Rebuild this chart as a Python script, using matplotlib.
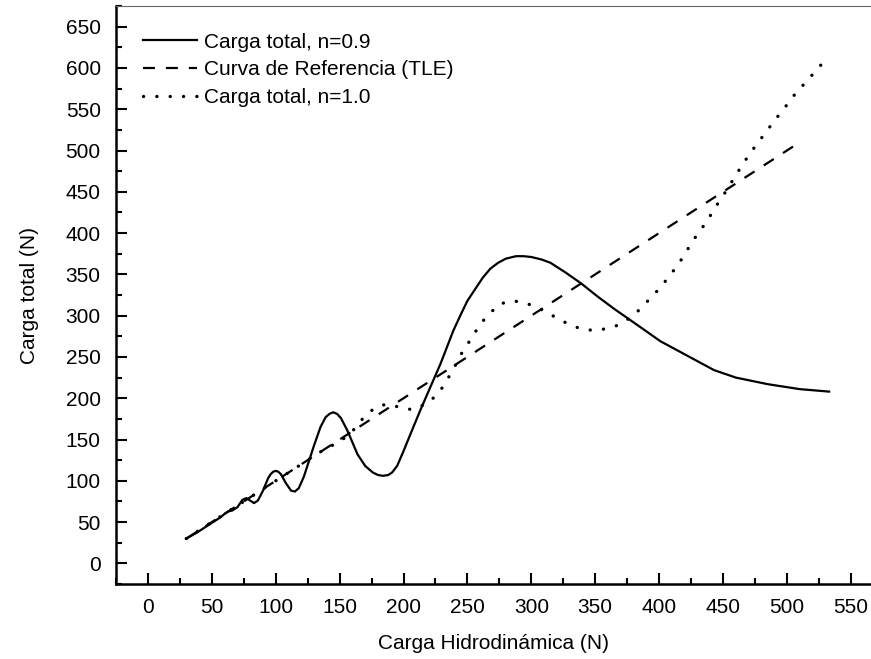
import matplotlib
matplotlib.use("Agg")
import matplotlib.pyplot as plt
from matplotlib.ticker import MultipleLocator

plt.rcParams['font.family'] = ['Liberation Sans', 'DejaVu Sans']
plt.rcParams['lines.scale_dashes'] = False

# --- data ---
ref_x = [30, 510]
ref_y = [30, 510]

n09_x = [30, 38, 45, 52, 57, 60, 63, 66, 70, 74, 77, 80, 83, 86, 90, 94, 96, 98, 100, 102,
         104, 108, 112, 115, 118, 122, 126, 130, 135, 139, 142, 145, 148, 151, 156, 164, 170,
         176, 180, 184, 188, 191, 195, 200, 205, 213, 220, 229, 239, 245, 250, 256, 262, 268,
         274, 280, 288, 294, 300, 308, 315, 327, 339, 352, 365, 378, 390, 401, 413, 425, 443,
         460, 485, 510, 533]
n09_y = [30, 37, 44, 51, 56, 60, 63, 64, 68, 77, 79, 76, 73, 76, 88, 103, 108, 111, 112, 111,
         108, 97, 88, 87, 91, 105, 124, 143, 165, 177, 181, 183, 181, 176, 161, 132, 118,
         110, 107, 106, 107, 110, 118, 136, 155, 185, 210, 242, 282, 302, 318, 332, 346, 357,
         364, 369, 372, 372, 371, 368, 364, 352, 339, 323, 308, 294, 281, 269, 259, 249, 234,
         225, 217, 211, 208]

n10_x = [30, 60, 100, 140, 150, 160, 169, 178, 187, 197, 207, 216, 224, 231, 237, 242, 247,
         254, 259, 267, 275, 285, 294, 303, 311, 320, 330, 339, 349, 358, 367, 377, 386, 393,
         401, 408, 415, 421, 427, 434, 440, 446, 452, 458, 464, 470, 477, 484, 490, 497, 504,
         512, 520, 528]
n10_y = [30, 60, 100, 140, 147, 160, 177, 189, 193, 189, 186, 192, 201, 214, 230, 244, 259,
         274, 288, 302, 314, 318, 316, 311, 305, 297, 289, 284, 282, 284, 288, 297, 309, 321,
         334, 348, 362, 377, 392, 407, 421, 436, 450, 465, 480, 494, 509, 523, 536, 549, 564,
         578, 592, 606]

fig = plt.figure(figsize=(8.71, 6.59), dpi=100)
ax = fig.add_axes([116 / 871, 75 / 659, 754 / 871, 578 / 659])

ax.plot(n09_x, n09_y, color='black', lw=1.6, label='Carga total, n=0.9')
ax.plot(ref_x, ref_y, color='black', lw=1.6, linestyle=(0, (8.6, 7.9)),
        label='Curva de Referencia (TLE)')
ax.plot(n10_x, n10_y, color='black', lw=2.4, linestyle=(0, (0.1, 9.5)),
        dash_capstyle='round', label='Carga total, n=1.0')

ax.set_xlim(-25, 565)
ax.set_ylim(-25, 675)
ax.xaxis.set_major_locator(MultipleLocator(50))
ax.xaxis.set_minor_locator(MultipleLocator(25))
ax.yaxis.set_major_locator(MultipleLocator(50))
ax.yaxis.set_minor_locator(MultipleLocator(25))

ax.tick_params(which='both', direction='in', width=1.5, labelsize=15, top=False, right=False)
ax.tick_params(which='major', length=8)
ax.tick_params(which='minor', length=4)
ax.tick_params(axis='x', pad=10)
ax.tick_params(axis='y', pad=11)

for s in ['left', 'bottom']:
    ax.spines[s].set_linewidth(1.8)
ax.spines['top'].set_linewidth(0.8)
ax.spines['top'].set_color('#666666')
ax.spines['right'].set_visible(False)

ax.set_xlabel('Carga Hidrodinámica (N)', fontsize=15, labelpad=12)
ax.set_ylabel('Carga total (N)', fontsize=15, labelpad=19)

ax.legend(loc='upper left', bbox_to_anchor=(0.036, 0.954), frameon=False, fontsize=15,
          handlelength=2.6, handletextpad=0.3, borderpad=0, borderaxespad=0,
          labelspacing=0.42)

fig.savefig('out.png', dpi=100)
